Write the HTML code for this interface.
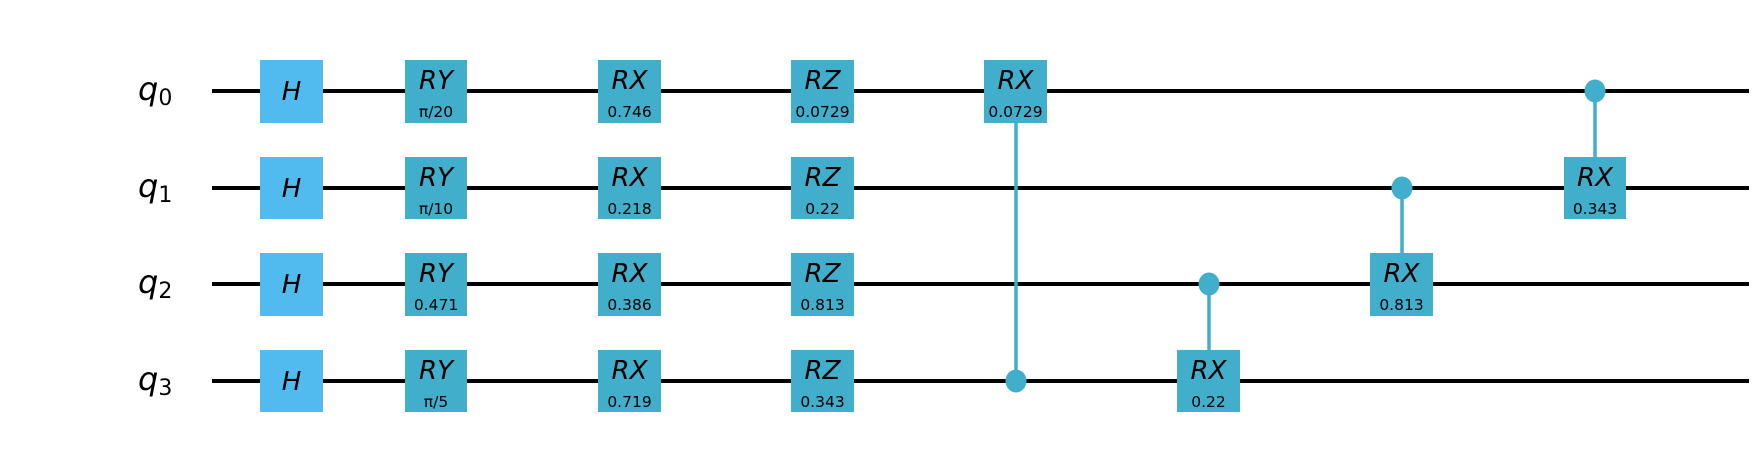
<!DOCTYPE html>
<html><head><meta charset="utf-8"><style>
html,body{margin:0;padding:0;background:#fff;}
svg{display:block;}
text{font-family:"DejaVu Sans","Liberation Sans",sans-serif;}
</style></head><body>
<svg width="1764" height="454" viewBox="0 0 1764 454" xmlns="http://www.w3.org/2000/svg">
<rect width="1764" height="454" fill="#fff"/>
<g stroke="#000" stroke-width="4">
<line x1="212" y1="91" x2="1749" y2="91"/>
<line x1="212" y1="188" x2="1749" y2="188"/>
<line x1="212" y1="284" x2="1749" y2="284"/>
<line x1="212" y1="381" x2="1749" y2="381"/>
</g>
<g font-style="italic" font-size="32" fill="#000">
<text x="138" y="100">q<tspan font-size="22" font-style="normal" dy="5">0</tspan></text>
<text x="138" y="197">q<tspan font-size="22" font-style="normal" dy="5">1</tspan></text>
<text x="138" y="293">q<tspan font-size="22" font-style="normal" dy="5">2</tspan></text>
<text x="138" y="390">q<tspan font-size="22" font-style="normal" dy="5">3</tspan></text>
</g>
<g stroke="#41aecb" stroke-width="3.5">
<line x1="1016" y1="91" x2="1016" y2="381"/>
<line x1="1209" y1="284" x2="1209" y2="381"/>
<line x1="1402" y1="188" x2="1402" y2="284"/>
<line x1="1595" y1="91" x2="1595" y2="188"/>
</g>
<g fill="#41aecb">
<ellipse cx="1016" cy="381" rx="10.5" ry="11.5"/>
<ellipse cx="1209" cy="284" rx="10.5" ry="11.5"/>
<ellipse cx="1402" cy="188" rx="10.5" ry="11.5"/>
<ellipse cx="1595" cy="91" rx="10.5" ry="11.5"/>
</g>
<g fill="#51bbf0">
<rect x="260" y="60" width="63" height="63"/>
<rect x="260" y="157" width="63" height="62"/>
<rect x="260" y="253" width="63" height="63"/>
<rect x="260" y="350" width="63" height="62"/>
</g>
<g font-style="italic" font-size="26" text-anchor="middle" fill="#000">
<text x="291.5" y="100">H</text>
<text x="291.5" y="197">H</text>
<text x="291.5" y="293">H</text>
<text x="291.5" y="390">H</text>
</g>
<g fill="#41aecb">
<rect x="405" y="60" width="62" height="63"/><rect x="405" y="157" width="62" height="62"/><rect x="405" y="253" width="62" height="63"/><rect x="405" y="350" width="62" height="62"/>
<rect x="598" y="60" width="63" height="63"/><rect x="598" y="157" width="63" height="62"/><rect x="598" y="253" width="63" height="63"/><rect x="598" y="350" width="63" height="62"/>
<rect x="791" y="60" width="63" height="63"/><rect x="791" y="157" width="63" height="62"/><rect x="791" y="253" width="63" height="63"/><rect x="791" y="350" width="63" height="62"/>
<rect x="984" y="60" width="63" height="63"/>
<rect x="1177" y="350" width="63" height="62"/>
<rect x="1370" y="253" width="63" height="63"/>
<rect x="1564" y="157" width="62" height="62"/>
</g>
<g text-anchor="middle" fill="#000">
<g font-style="italic" font-size="26">
<text x="436" y="89">RY</text><text x="436" y="186">RY</text><text x="436" y="282">RY</text><text x="436" y="379">RY</text>
<text x="629.5" y="89">RX</text><text x="629.5" y="186">RX</text><text x="629.5" y="282">RX</text><text x="629.5" y="379">RX</text>
<text x="822.5" y="89">RZ</text><text x="822.5" y="186">RZ</text><text x="822.5" y="282">RZ</text><text x="822.5" y="379">RZ</text>
<text x="1015.5" y="89">RX</text>
<text x="1208.5" y="379">RX</text>
<text x="1401.5" y="282">RX</text>
<text x="1595" y="186">RX</text>
</g>
<g font-size="15.5">
<text x="436" y="117">π/20</text><text x="436" y="214">π/10</text><text x="436" y="310">0.471</text><text x="436" y="407">π/5</text>
<text x="629.5" y="117">0.746</text><text x="629.5" y="214">0.218</text><text x="629.5" y="310">0.386</text><text x="629.5" y="407">0.719</text>
<text x="822.5" y="117">0.0729</text><text x="822.5" y="214">0.22</text><text x="822.5" y="310">0.813</text><text x="822.5" y="407">0.343</text>
<text x="1015.5" y="117">0.0729</text>
<text x="1208.5" y="407">0.22</text>
<text x="1401.5" y="310">0.813</text>
<text x="1595" y="214">0.343</text>
</g>
</g>
</svg>
</body></html>
